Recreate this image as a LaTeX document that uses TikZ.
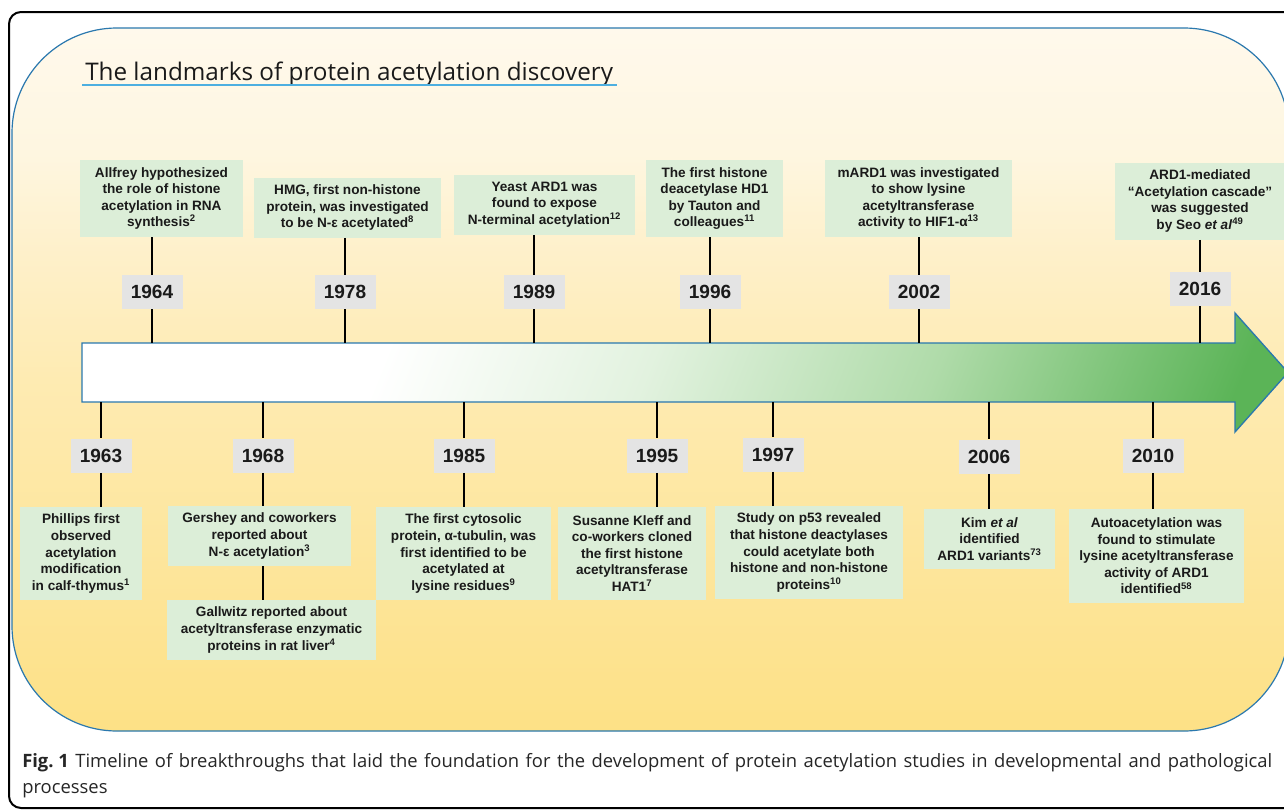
\documentclass[tikz,border=0pt]{standalone}
\usepackage{fontspec}
\setmainfont{Liberation Sans}
\newfontfamily\titlefont{Open Sans}
\usetikzlibrary{calc}
\definecolor{panelblue}{HTML}{2A78AE}
\definecolor{ulblue}{HTML}{4DAFE0}
\definecolor{gfill}{HTML}{DCEED8}
\definecolor{yfill}{HTML}{E4E4E4}
\definecolor{pa}{HTML}{FDE186}
\definecolor{pb}{HTML}{FDE496}
\definecolor{pc}{HTML}{FEEBB2}
\definecolor{pd}{HTML}{FEF0CA}
\definecolor{pe}{HTML}{FEF6E0}
\definecolor{pf}{HTML}{FFF9EC}
\definecolor{ga}{HTML}{E2F2DF}
\definecolor{gb}{HTML}{AFDBA9}
\definecolor{gc}{HTML}{5BB457}
\definecolor{txt}{HTML}{1A1A1A}
\definecolor{captxt}{HTML}{262626}
\pgfdeclarehorizontalshading{arrowshade}{100bp}{color(0bp)=(white); color(25bp)=(white); color(34bp)=(white); color(48bp)=(ga); color(63bp)=(gb); color(79bp)=(gc); color(100bp)=(gc)}
\pgfdeclareverticalshading{panelshade}{100bp}{color(0bp)=(pa); color(25bp)=(pa); color(34bp)=(pb); color(50bp)=(pc); color(59bp)=(pd); color(66bp)=(pe); color(75bp)=(pf); color(100bp)=(pf)}
\tikzset{
  sz/.style 2 args={minimum width={#1*0.75pt}, minimum height={#2*0.75pt}},
  gbox/.style={fill=gfill, inner sep=0pt, align=center, text=txt,
    font=\fontsize{10.2pt}{12.4pt}\selectfont\bfseries},
  ybox/.style={fill=yfill, inner sep=0pt, sz={61}{34}, text=txt,
    font=\fontsize{14.3pt}{16pt}\selectfont\bfseries},
  conn/.style={draw=black, line width=1.5pt},
  captext/.style={anchor=base west, inner sep=0pt, text=captxt, font=\titlefont\fontsize{13.8pt}{16pt}\selectfont},
}
\begin{document}
\begin{tikzpicture}[x=0.75pt,y=-0.75pt]
\useasboundingbox (0,0) rectangle (1284,810);
\begin{scope}
\clip (0,0) rectangle (1284,810);
\fill[white] (0,0) rectangle (1284,810);
% outer frame
\draw[black, line width=1.5pt, rounded corners=9pt] (9,12) rectangle (1320,808);
% panel
\shadedraw[shading=panelshade, draw=panelblue, line width=0.9pt, rounded corners=78.75pt] (12,28) rectangle (1289,731);
% title
\node[anchor=base west, inner sep=0pt, text=txt, font=\titlefont\fontsize{18.2pt}{20pt}\selectfont] (title) at (85,80) {The landmarks of protein acetylation discovery};
\draw[ulblue, line width=1.3pt] ($(title.base west)+(-3,5)$) -- ($(title.base east)+(4,5)$);
% arrow
\shadedraw[shading=arrowshade, shading angle=-22, draw=panelblue, line width=1pt] (82,343) -- (1235,343) -- (1235,313) -- (1288,372.5) -- (1235,432) -- (1235,402) -- (82,402) -- cycle;
% arrow edge coordinates
\foreach \n/\x in {1964/152,1978/345,1989/534,1996/710,2002/919,2016/1200}{\coordinate (a\n) at (\x,343);}
\foreach \n/\x in {1963/101,1968/263,1985/464,1995/657,1997/773,2006/989,2010/1153}{\coordinate (b\n) at (\x,402);}
% upper text boxes
\node[gbox, sz={163}{77}] (t1964) at (161.5,198.5) {Allfrey hypothesized\\the role of histone\\acetylation in RNA\\synthesis\textsuperscript{2}};
\node[gbox, sz={187}{60}] (t1978) at (347.5,207.5) {HMG, first non-histone\\protein, was investigated\\to be N-ε acetylated\textsuperscript{8}};
\node[gbox, sz={181}{60}] (t1989) at (544.5,204.5) {Yeast ARD1 was\\found to expose\\N-terminal acetylation\textsuperscript{12}};
\node[gbox, sz={137}{77}] (t1996) at (714.5,198.5) {The first histone\\deacetylase HD1\\by Tauton and\\colleagues\textsuperscript{11}};
\node[gbox, sz={187}{77}] (t2002) at (918.5,198.5) {mARD1 was investigated\\to show lysine\\acetyltransferase\\activity to HIF1-α\textsuperscript{13}};
\node[gbox, sz={170}{77}] (t2016) at (1200,201) {ARD1-mediated\\“Acetylation cascade”\\was suggested\\by Seo \textit{et al}\textsuperscript{49}};
% upper years
\node[ybox] (y1964) at (152,292) {1964};
\node[ybox] (y1978) at (345,292) {1978};
\node[ybox] (y1989) at (534,292) {1989};
\node[ybox] (y1996) at (710,292) {1996};
\node[ybox] (y2002) at (919,292) {2002};
\node[ybox] (y2016) at (1200,289) {2016};
\foreach \n in {1964,1978,1989,1996,2002,2016}{
  \draw[conn] (y\n.north |- t\n.south) -- (y\n.north);
  \draw[conn] (y\n.south) -- (a\n);
}
% lower years
\node[ybox] (y1963) at (101,455.5) {1963};
\node[ybox] (y1968) at (263,455.5) {1968};
\node[ybox] (y1985) at (464,455.5) {1985};
\node[ybox] (y1995) at (657,455.5) {1995};
\node[ybox] (y1997) at (773,454.5) {1997};
\node[ybox] (y2006) at (989,456.5) {2006};
\node[ybox] (y2010) at (1153,455.5) {2010};
% lower text boxes
\node[gbox, sz={122}{93}] (t1963) at (81,553.5) {Phillips first\\observed\\acetylation\\modification\\in calf-thymus\textsuperscript{1}};
\node[gbox, sz={183}{60}] (t1968) at (259.5,536) {Gershey and coworkers\\reported about\\N-ε acetylation\textsuperscript{3}};
\node[gbox, sz={209}{60}] (t1968b) at (271.5,630) {Gallwitz reported about\\acetyltransferase enzymatic\\proteins in rat liver\textsuperscript{4}};
\node[gbox, sz={175}{93}] (t1985) at (463.5,553.5) {The first cytosolic\\protein, α-tubulin, was\\first identified to be\\acetylated at\\lysine residues\textsuperscript{9}};
\node[gbox, sz={148}{93}] (t1995) at (632,553.5) {Susanne Kleff and\\co-workers cloned\\the first histone\\acetyltransferase\\HAT1\textsuperscript{7}};
\node[gbox, sz={188}{93}] (t1997) at (809,552.5) {Study on p53 revealed\\that histone deactylases\\could acetylate both\\histone and non-histone\\proteins\textsuperscript{10}};
\node[gbox, sz={131}{60}] (t2006) at (989.5,539) {Kim \textit{et al}\\identified\\ARD1 variants\textsuperscript{73}};
\node[gbox, sz={175}{94}] (t2010) at (1156.5,556) {Autoacetylation was\\found to stimulate\\lysine acetyltransferase\\activity of ARD1\\identified\textsuperscript{58}};
\foreach \n in {1963,1968,1985,1995,1997,2006,2010}{
  \draw[conn] (b\n) -- (y\n.north);
  \draw[conn] (y\n.south) -- (y\n.south |- t\n.north);
}
\draw[conn] (t1968.south -| y1968.center) -- (t1968b.north -| y1968.center);
% caption
\node[captext] (cap1) at (22,767) {\makebox[937.5pt][s]{\mbox{\textbf{Fig.\ 1}} Timeline of breakthroughs that laid the foundation for the development of protein acetylation studies in developmental and pathological}};
\node[captext] (cap2) at (22,793) {processes};
\end{scope}
\end{tikzpicture}
\end{document}
